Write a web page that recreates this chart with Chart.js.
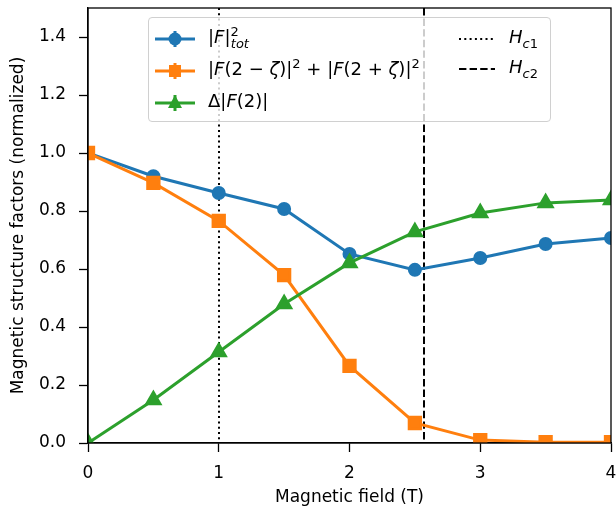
<!DOCTYPE html>
<html>
<head>
<meta charset="utf-8">
<script src="https://cdn.jsdelivr.net/npm/chart.js@4"></script>
<style>
  body { margin: 0; overflow: hidden; background: #fff; }
  #wrap { position: relative; width: 616px; height: 508px; overflow: hidden; }
  #chart { position: absolute; left: 0; top: -3px; }
  #legend {
    position: absolute; left: 148px; top: 17px; width: 401px; height: 103px;
    border: 1px solid #d0d0d0; border-radius: 4px; background: rgba(255,255,255,0.8);
    font-family: "DejaVu Sans", sans-serif; font-size: 18px; color: #000;
  }
  .row { position: absolute; height: 20px; line-height: 20px; white-space: nowrap; }
  .row canvas { position: absolute; left: 0; top: -6px; }
  .row span { position: absolute; top: -2px; }
  sub, sup { font-size: 13px; line-height: 0; }
</style>
</head>
<body>
<div id="wrap">
  <canvas id="chart" width="622" height="511"></canvas>
  <div id="legend"></div>
</div>
<script>
const fields = [0, 0.5, 1, 1.5, 2, 2.5, 3, 3.5, 4];
const totValues = [1.0, 0.92, 0.862, 0.807, 0.652, 0.597, 0.638, 0.686, 0.707];
const satValues = [1.0, 0.897, 0.766, 0.579, 0.266, 0.069, 0.01, 0.003, 0.003];
const braggValues = [0.0, 0.148, 0.314, 0.479, 0.621, 0.728, 0.793, 0.828, 0.838];
const xTicks = [0, 1, 2, 3, 4];
const yTicks = [0, 0.2, 0.4, 0.6, 0.8, 1.0, 1.2, 1.4];
const hc1 = 1.0;
const hc2 = 2.57;

const blue = '#1f77b4', orange = '#ff7f0e', green = '#2ca02c';

function pts(values) {
    return fields.map((x, i) => ({ x: x, y: values[i] }));
}

// box round the plot, like matplotlib spines
const frame = {
    id: 'frame',
    afterDraw(chart) {
        const a = chart.chartArea, ctx = chart.ctx;
        ctx.save();
        ctx.strokeStyle = '#000';
        ctx.lineWidth = 1.3;
        ctx.strokeRect(a.left, a.top, a.right - a.left, a.bottom - a.top);
        ctx.restore();
    }
};

// critical field lines
const fieldLines = {
    id: 'fieldLines',
    beforeDatasetsDraw(chart) {
        const x = chart.scales.x, a = chart.chartArea, ctx = chart.ctx;
        ctx.save();
        ctx.strokeStyle = '#000';
        ctx.lineWidth = 2;
        [[hc1, [2, 3.3]], [hc2, [7.4, 3.2]]].forEach(([v, dash]) => {
            const px = Math.round(x.getPixelForValue(v));
            ctx.setLineDash(dash);
            ctx.beginPath();
            ctx.moveTo(px, a.top);
            ctx.lineTo(px, a.bottom);
            ctx.stroke();
        });
        ctx.restore();
    }
};

const tickFont = { family: 'DejaVu Sans', size: 17 };

new Chart(document.getElementById('chart'), {
    type: 'line',
    data: {
        datasets: [
            { label: 'tot', data: pts(totValues), borderColor: blue, backgroundColor: blue,
              borderWidth: 3, pointStyle: 'circle', pointRadius: 5.5, order: 2 },
            { label: 'sat', data: pts(satValues), borderColor: orange, backgroundColor: orange,
              borderWidth: 3, pointStyle: 'rect', pointRadius: 8, order: 1 },
            { label: 'bragg', data: pts(braggValues), borderColor: green, backgroundColor: green,
              borderWidth: 3, pointStyle: 'triangle', pointRadius: 7.5, order: 0 }
        ]
    },
    options: {
        responsive: false,
        animation: false,
        layout: { padding: { top: 8, right: 6, left: 0, bottom: 0 } },
        plugins: { legend: { display: false }, tooltip: { enabled: false } },
        scales: {
            x: {
                type: 'linear', min: 0, max: 4,
                afterBuildTicks: s => { s.ticks = xTicks.map(v => ({ value: v })); },
                afterFit: s => { s.height = 65; s.paddingLeft = 0; s.paddingRight = 0; },
                ticks: { color: '#000', font: tickFont, padding: 11, maxRotation: 0,
                         callback: v => String(v) },
                grid: { drawOnChartArea: false, color: '#000', tickLength: 9, tickWidth: 1.3 },
                border: { color: '#000', width: 1.3 },
                title: { display: true, text: 'Magnetic field (T)', color: '#000',
                         font: { family: 'DejaVu Sans', size: 17 }, padding: { top: -2, bottom: 0 } }
            },
            y: {
                type: 'linear', min: 0, max: 1.5,
                afterBuildTicks: s => { s.ticks = yTicks.map(v => ({ value: v })); },
                afterFit: s => { s.width = 88; s.paddingTop = 0; s.paddingBottom = 0; },
                ticks: { color: '#000', font: tickFont, padding: 13,
                         callback: v => v.toFixed(1) },
                grid: { drawOnChartArea: false, color: '#000', tickLength: 9, tickWidth: 1.3 },
                border: { color: '#000', width: 1.3 },
                title: { display: true, text: 'Magnetic structure factors (normalized)', color: '#000',
                         font: { family: 'DejaVu Sans', size: 17 }, padding: { top: 8, bottom: 0 } }
            }
        }
    },
    plugins: [fieldLines, frame]
});

// legend (html so the math labels stay text)
const legendRows = [
    { left: 6, top: 21, kind: 'marker', color: blue, style: 'circle',
      html: '|<i>F</i>|<sup>2</sup><sub style="margin-left:-8px"><i>tot</i></sub>' },
    { left: 6, top: 53, kind: 'marker', color: orange, style: 'rect',
      html: '|<i>F</i>(2 &minus; <i>&zeta;</i>)|<sup>2</sup> + |<i>F</i>(2 + <i>&zeta;</i>)|<sup>2</sup>' },
    { left: 6, top: 85, kind: 'marker', color: green, style: 'triangle',
      html: '&Delta;|<i>F</i>(2)|' },
    { left: 308, top: 21, kind: 'line', dash: [2, 3.3], html: '<i>H</i><sub><i>c</i>1</sub>' },
    { left: 308, top: 51, kind: 'line', dash: [7.4, 3.2], html: '<i>H</i><sub><i>c</i>2</sub>' }
];
const legend = document.getElementById('legend');
legendRows.forEach(r => {
    const row = document.createElement('div');
    row.className = 'row';
    row.style.left = r.left + 'px';
    row.style.top = (r.top - 10) + 'px';
    const c = document.createElement('canvas');
    c.width = 40; c.height = 32;
    const g = c.getContext('2d');
    if (r.kind === 'marker') {
        g.strokeStyle = r.color; g.fillStyle = r.color; g.lineWidth = 3;
        g.beginPath(); g.moveTo(0, 16); g.lineTo(40, 16); g.stroke();
        g.beginPath(); g.moveTo(20, 8); g.lineTo(20, 24); g.stroke();
        g.beginPath();
        if (r.style === 'circle') g.arc(20, 16, 6.5, 0, Math.PI * 2);
        else if (r.style === 'rect') g.rect(14, 10, 12, 12);
        else { g.moveTo(20, 8); g.lineTo(27, 21); g.lineTo(13, 21); g.closePath(); }
        g.fill();
    } else {
        g.strokeStyle = '#000'; g.lineWidth = 2; g.setLineDash(r.dash);
        g.beginPath(); g.moveTo(2, 16); g.lineTo(38, 16); g.stroke();
    }
    row.appendChild(c);
    const t = document.createElement('span');
    t.style.left = (r.kind === 'marker' ? 53 : 52) + 'px';
    t.innerHTML = r.html;
    row.appendChild(t);
    legend.appendChild(row);
});
</script>
</body>
</html>
